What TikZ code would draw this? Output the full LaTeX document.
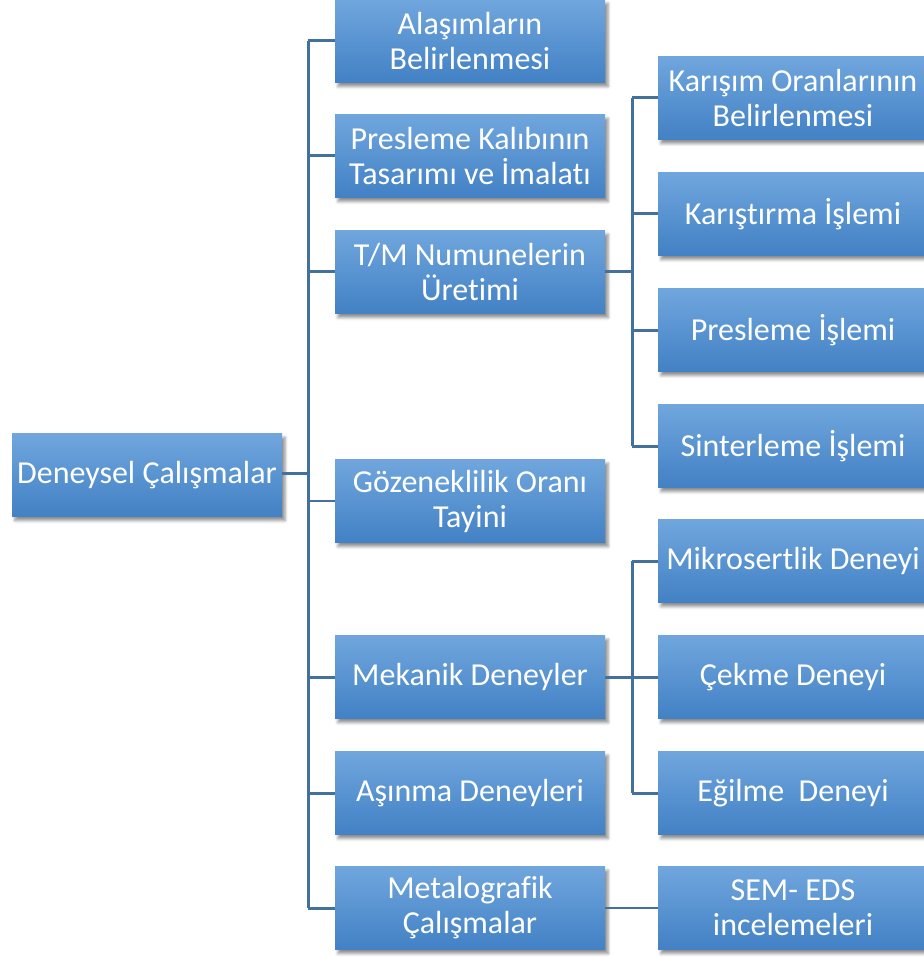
\documentclass[tikz,border=0pt]{standalone}
\usepackage{fontspec}
\setmainfont[Ligatures=CommonOff]{Carlito}
\usepackage{tikz}
\usetikzlibrary{calc}
\usetikzlibrary{shadows.blur}

\definecolor{boxtop}{RGB}{112,166,221}
\definecolor{boxbot}{RGB}{66,129,197}
\definecolor{linecol}{RGB}{65,113,156}

\tikzset{
	kutu/.style={rectangle, minimum width=270pt, minimum height=83pt,
		top color=boxtop, bottom color=boxbot, text=white, align=center,
		font=\fontsize{32}{35}\selectfont, inner sep=2pt,
		blur shadow={shadow xshift=3pt, shadow yshift=-4pt, shadow blur radius=3pt, shadow opacity=45}},
	hat/.style={draw=linecol, line width=3pt},
	incehat/.style={draw=linecol, line width=1.5pt}
}

\begin{document}
\begin{tikzpicture}[x=1pt, y=-1pt]
			\useasboundingbox (0,0) rectangle (923,957);
			% ana kutu
			\node[kutu] (D) at (147,475) {Deneysel Çalışmalar};
			% orta sutun
			\node[kutu] (M1) at (470,41) {Alaşımların\\Belirlenmesi};
			\node[kutu] (M2) at (470,156) {Presleme Kalıbının\\Tasarımı ve İmalatı};
			\node[kutu] (M3) at (470,272) {T/M Numunelerin\\Üretimi};
			\node[kutu] (M4) at (470,501) {Gözeneklilik Oranı\\Tayini};
			\node[kutu] (M5) at (470,677) {Mekanik Deneyler};
			\node[kutu] (M6) at (470,793) {Aşınma Deneyleri};
			\node[kutu] (M7) at (470,908) {Metalografik\\Çalışmalar};
			% sag sutun
			\node[kutu] (T1) at (793,98) {Karışım Oranlarının\\Belirlenmesi};
			\node[kutu] (T2) at (793,214) {Karıştırma İşlemi};
			\node[kutu] (T3) at (793,330) {Presleme İşlemi};
			\node[kutu] (T4) at (793,446) {Sinterleme İşlemi};
			\node[kutu] (K1) at (793,561) {Mikrosertlik Deneyi};
			\node[kutu] (K2) at (793,677) {Çekme Deneyi};
			\node[kutu] (K3) at (793,793) {Eğilme~ Deneyi};
			\node[kutu] (S1) at (793,908) {SEM- EDS\\incelemeleri};
			% baglantilar
			\coordinate (G) at (308,473);
			\coordinate (H) at (632,0);
			\draw[hat] (D.east |- G) -- (G);
			\draw[hat] (G |- M1.west) -- (G |- M7.west);
			\foreach \m in {M1,M2,M3,M5,M6,M7}
				\draw[hat] (G |- \m.west) -- (\m.west);
			\draw[incehat] (G |- M4.west) -- (M4.west);
			\draw[hat] (M3.east) -- (H |- M3.east);
			\draw[hat] (H |- T1.west) -- (H |- T4.west);
			\foreach \t in {T1,T2,T3,T4}
				\draw[hat] (H |- \t.west) -- (\t.west);
			\draw[hat] (M5.east) -- (H |- M5.east);
			\draw[hat] (H |- K1.west) -- (H |- K3.west);
			\foreach \k in {K1,K2,K3}
				\draw[hat] (H |- \k.west) -- (\k.west);
			\draw[incehat] (M7.east) -- (S1.west);
		\end{tikzpicture}
\end{document}
